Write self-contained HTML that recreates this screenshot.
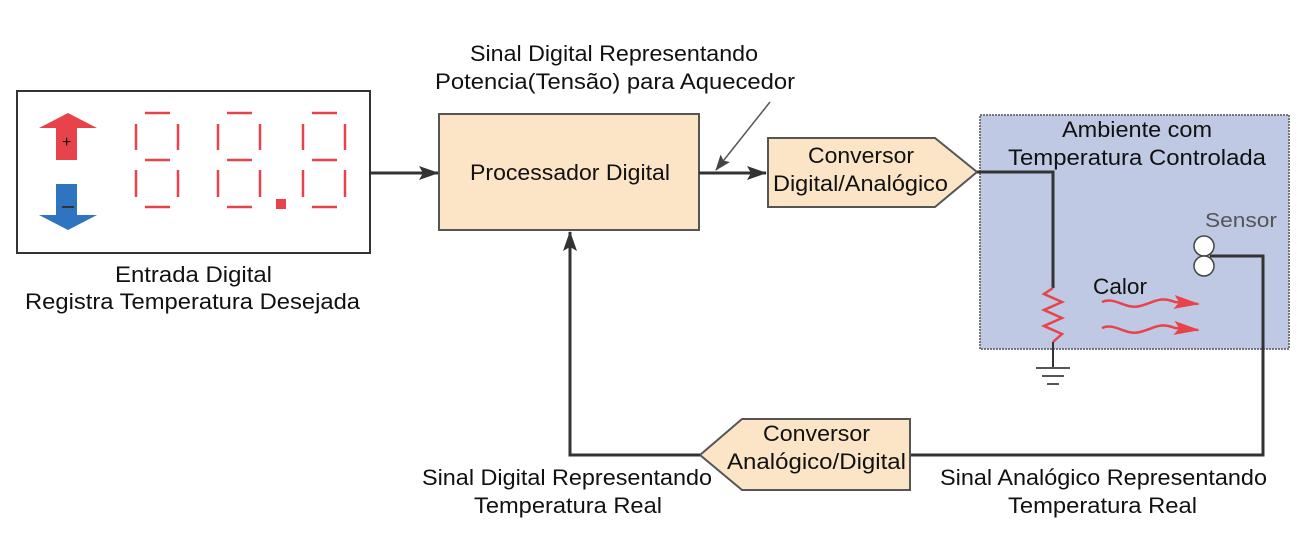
<!DOCTYPE html>
<html><head><meta charset="utf-8"><style>
body{margin:0;background:#fff;}
svg text{font-family:"Liberation Sans",sans-serif;font-size:22px;fill:#111;}
</style></head><body>
<svg width="1311" height="542" viewBox="0 0 1311 542" xmlns="http://www.w3.org/2000/svg">
<defs>
<marker id="ah" markerWidth="20" markerHeight="14" refX="19" refY="7" orient="auto" markerUnits="userSpaceOnUse">
<path d="M0,0 L20,7 L0,14 L4,7 z" fill="#333"/></marker>
<marker id="ah2" markerWidth="16" markerHeight="12" refX="15" refY="6" orient="auto" markerUnits="userSpaceOnUse">
<path d="M0,0 L16,6 L0,12 L3,6 z" fill="#444"/></marker>
<marker id="rh" markerWidth="26" markerHeight="14" refX="24" refY="7" orient="auto" markerUnits="userSpaceOnUse">
<path d="M0,0 L26,7 L0,14 L5,7 z" fill="#e8424a"/></marker>
</defs>
<rect x="0" y="0" width="1311" height="542" fill="#fff"/>
<rect x="980" y="115" width="309" height="234" fill="#bfc9e3" stroke="#777" stroke-width="2" stroke-dasharray="2,1"/>
<rect x="17" y="91" width="353" height="162" fill="#fff" stroke="#333" stroke-width="2"/>
<path d="M56,160 L77,160 L77,128 L97,128 L68,113 L39,128 L56,128 z" fill="#e8424a"/>
<text x="62" y="147" style="font-size:16px">+</text>
<path d="M56,184 L77,184 L77,215 L97,215 L68,230 L39,215 L56,215 z" fill="#2f74c0"/>
<rect x="62" y="206" width="12" height="2" fill="#333"/>
<g stroke="#e8424a" stroke-width="2.5" fill="none">
<g id="dg">
<line x1="145" y1="113" x2="170" y2="113"/><line x1="145" y1="160" x2="170" y2="160"/><line x1="145" y1="207" x2="170" y2="207"/>
<line x1="136" y1="124" x2="136" y2="150"/><line x1="178" y1="124" x2="178" y2="150"/>
<line x1="136" y1="170" x2="136" y2="197"/><line x1="178" y1="170" x2="178" y2="197"/>
</g>
<use href="#dg" x="82"/><use href="#dg" x="167"/>
</g>
<rect x="276" y="199" width="10" height="10" fill="#e8424a"/>
<text x="115" y="282" textLength="157" lengthAdjust="spacingAndGlyphs">Entrada Digital</text>
<text x="25" y="309" textLength="335" lengthAdjust="spacingAndGlyphs">Registra Temperatura Desejada</text>
<line x1="370" y1="173" x2="438" y2="173" stroke="#333" stroke-width="3" marker-end="url(#ah)"/>
<rect x="439" y="114" width="260" height="116" fill="#fbe5c6" stroke="#555" stroke-width="2"/>
<text x="470" y="180" textLength="200" lengthAdjust="spacingAndGlyphs">Processador Digital</text>
<line x1="699" y1="173" x2="766" y2="173" stroke="#333" stroke-width="3" marker-end="url(#ah)"/>
<line x1="770" y1="102" x2="716" y2="170" stroke="#555" stroke-width="1.5" marker-end="url(#ah2)"/>
<text x="470" y="61" textLength="288" lengthAdjust="spacingAndGlyphs">Sinal Digital Representando</text>
<text x="435" y="89" textLength="360" lengthAdjust="spacingAndGlyphs">Potencia(Tensão) para Aquecedor</text>
<polygon points="768,138 935,138 977,172 935,207 768,207" fill="#fbe5c6" stroke="#555" stroke-width="2"/>
<text x="808" y="163" textLength="106" lengthAdjust="spacingAndGlyphs">Conversor</text>
<text x="773" y="191" textLength="175" lengthAdjust="spacingAndGlyphs">Digital/Analógico</text>
<text x="1062" y="137" textLength="150" lengthAdjust="spacingAndGlyphs">Ambiente com</text>
<text x="1008" y="165" textLength="258" lengthAdjust="spacingAndGlyphs">Temperatura Controlada</text>
<polyline points="977,172 1053,172 1053,288" fill="none" stroke="#333" stroke-width="3"/>
<polyline points="1053,288 1044,294 1062,302 1044,310 1062,318 1044,326 1062,334 1053,342" fill="none" stroke="#e8424a" stroke-width="2.5"/>
<line x1="1053" y1="342" x2="1053" y2="368" stroke="#333" stroke-width="2"/>
<line x1="1036" y1="368" x2="1070" y2="368" stroke="#555" stroke-width="2"/>
<line x1="1042" y1="376" x2="1064" y2="376" stroke="#555" stroke-width="2"/>
<line x1="1047" y1="384" x2="1059" y2="384" stroke="#555" stroke-width="2"/>
<text x="1093" y="294" textLength="54" lengthAdjust="spacingAndGlyphs">Calor</text>
<path d="M1102,302 C1115,296 1125,310 1140,306 C1155,302 1160,296 1175,302 L1198,304" fill="none" stroke="#e8424a" stroke-width="2.5" marker-end="url(#rh)"/>
<path d="M1102,328 C1115,322 1125,336 1140,332 C1155,328 1160,322 1175,328 L1198,330" fill="none" stroke="#e8424a" stroke-width="2.5" marker-end="url(#rh)"/>
<text x="1205" y="227" textLength="72" lengthAdjust="spacingAndGlyphs" style="fill:#555;font-size:20px">Sensor</text>
<circle cx="1204" cy="246" r="10" fill="#fff" stroke="#444" stroke-width="1.5"/>
<circle cx="1204" cy="266" r="10" fill="#fff" stroke="#444" stroke-width="1.5"/>
<polyline points="1210,256 1263,256 1263,455 910,455" fill="none" stroke="#333" stroke-width="3"/>
<polygon points="700,455 742,419 910,419 910,490 742,490" fill="#fbe5c6" stroke="#555" stroke-width="2"/>
<text x="763" y="441" textLength="107" lengthAdjust="spacingAndGlyphs">Conversor</text>
<text x="727" y="469" textLength="179" lengthAdjust="spacingAndGlyphs">Analógico/Digital</text>
<polyline points="700,455 570,455 570,232" fill="none" stroke="#333" stroke-width="3" marker-end="url(#ah)"/>
<text x="422" y="485" textLength="290" lengthAdjust="spacingAndGlyphs">Sinal Digital Representando</text>
<text x="474" y="513" textLength="188" lengthAdjust="spacingAndGlyphs">Temperatura Real</text>
<text x="940" y="485" textLength="327" lengthAdjust="spacingAndGlyphs">Sinal Analógico Representando</text>
<text x="1008" y="513" textLength="189" lengthAdjust="spacingAndGlyphs">Temperatura Real</text>
</svg>
</body></html>
